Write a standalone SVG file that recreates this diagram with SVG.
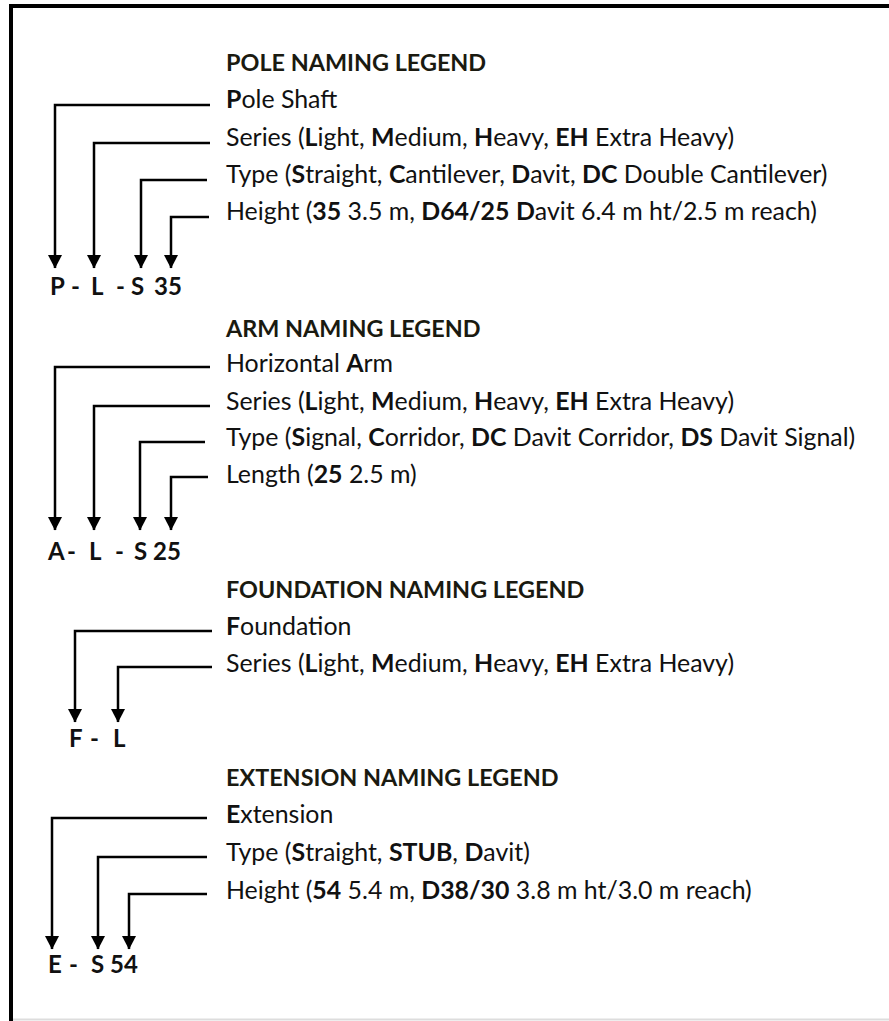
<svg xmlns="http://www.w3.org/2000/svg" width="889" height="1021" viewBox="0 0 889 1021">
<defs>
<style>
text{font-family:Lato,"Liberation Sans",sans-serif;font-size:24.9px;fill:#111}
.t{font-weight:bold;fill:#1a1a10;font-size:23.4px}
.b{font-weight:bold}
.c{font-weight:bold;font-size:24px}
.ln{fill:none;stroke:#000;stroke-width:2.5}
</style>
<marker id="ah" markerUnits="userSpaceOnUse" markerWidth="15" markerHeight="15" refX="13" refY="7" orient="auto" viewBox="0 0 15 15">
<path d="M0,0 L13.5,7 L0,14 Z" fill="#000"/>
</marker>
</defs>
<rect width="889" height="1021" fill="#fff"/>
<g id="frame">
<line x1="9" y1="6" x2="889" y2="6" stroke="#000" stroke-width="4"/>
<line x1="11" y1="4" x2="11" y2="1021" stroke="#000" stroke-width="4"/>
<line x1="13" y1="1019.5" x2="889" y2="1019.5" stroke="#ddd" stroke-width="2"/>
</g>
<g id="connectors">
<path class="ln" d="M210,105 H55 V268" marker-end="url(#ah)"/>
<path class="ln" d="M210,143 H94 V268" marker-end="url(#ah)"/>
<path class="ln" d="M207,180 H141 V268" marker-end="url(#ah)"/>
<path class="ln" d="M209,217 H171 V268" marker-end="url(#ah)"/>
<path class="ln" d="M210,367 H55 V530" marker-end="url(#ah)"/>
<path class="ln" d="M210,406 H94 V530" marker-end="url(#ah)"/>
<path class="ln" d="M205,442 H140 V530" marker-end="url(#ah)"/>
<path class="ln" d="M208,477 H171 V530" marker-end="url(#ah)"/>
<path class="ln" d="M212,631 H75 V722" marker-end="url(#ah)"/>
<path class="ln" d="M212,667 H118 V722" marker-end="url(#ah)"/>
<path class="ln" d="M207,818 H52 V949" marker-end="url(#ah)"/>
<path class="ln" d="M207,857 H98 V949" marker-end="url(#ah)"/>
<path class="ln" d="M207,894 H129 V949" marker-end="url(#ah)"/>
</g>
<g id="pole-legend">
<text class="t" x="226" y="71">POLE NAMING LEGEND</text>
<text x="226" y="108"><tspan class="b">P</tspan>ole Shaft</text>
<text x="226" y="146">Series (<tspan class="b">L</tspan>ight, <tspan class="b">M</tspan>edium, <tspan class="b">H</tspan>eavy, <tspan class="b">EH</tspan> Extra Heavy)</text>
<text x="226" y="183">Type (<tspan class="b">S</tspan>traight, <tspan class="b">C</tspan>antilever, <tspan class="b">D</tspan>avit, <tspan class="b">DC</tspan> Double Cantilever)</text>
<text x="226" y="220">Height (<tspan class="b">35</tspan> 3.5 m, <tspan class="b">D64/25</tspan> <tspan class="b">D</tspan>avit 6.4 m ht/2.5 m reach)</text>
<text class="c" y="295"><tspan x="50">P</tspan><tspan x="71">-</tspan><tspan x="91">L</tspan><tspan x="116">-</tspan><tspan x="131">S</tspan><tspan x="154">35</tspan></text>
</g>
<g id="arm-legend">
<text class="t" x="226" y="337">ARM NAMING LEGEND</text>
<text x="226" y="372">Horizontal <tspan class="b">A</tspan>rm</text>
<text x="226" y="410">Series (<tspan class="b">L</tspan>ight, <tspan class="b">M</tspan>edium, <tspan class="b">H</tspan>eavy, <tspan class="b">EH</tspan> Extra Heavy)</text>
<text x="226" y="446">Type (<tspan class="b">S</tspan>ignal, <tspan class="b">C</tspan>orridor, <tspan class="b">DC</tspan> Davit Corridor, <tspan class="b">DS</tspan> Davit Signal)</text>
<text x="226" y="483">Length (<tspan class="b">25</tspan> 2.5 m)</text>
<text class="c" y="560"><tspan x="48">A</tspan><tspan x="67">-</tspan><tspan x="89">L</tspan><tspan x="115">-</tspan><tspan x="134">S</tspan><tspan x="153">25</tspan></text>
</g>
<g id="foundation-legend">
<text class="t" x="226" y="598">FOUNDATION NAMING LEGEND</text>
<text x="226" y="635"><tspan class="b">F</tspan>oundation</text>
<text x="226" y="672">Series (<tspan class="b">L</tspan>ight, <tspan class="b">M</tspan>edium, <tspan class="b">H</tspan>eavy, <tspan class="b">EH</tspan> Extra Heavy)</text>
<text class="c" y="747"><tspan x="69">F</tspan><tspan x="90">-</tspan><tspan x="113">L</tspan></text>
</g>
<g id="extension-legend">
<text class="t" x="226" y="786">EXTENSION NAMING LEGEND</text>
<text x="226" y="823"><tspan class="b">E</tspan>xtension</text>
<text x="226" y="861">Type (<tspan class="b">S</tspan>traight, <tspan class="b">STUB</tspan>, <tspan class="b">D</tspan>avit)</text>
<text x="226" y="899">Height (<tspan class="b">54</tspan> 5.4 m, <tspan class="b">D38/30</tspan> 3.8 m ht/3.0 m reach)</text>
<text class="c" y="973"><tspan x="48">E</tspan><tspan x="69">-</tspan><tspan x="91">S</tspan><tspan x="110">54</tspan></text>
</g>
</svg>
